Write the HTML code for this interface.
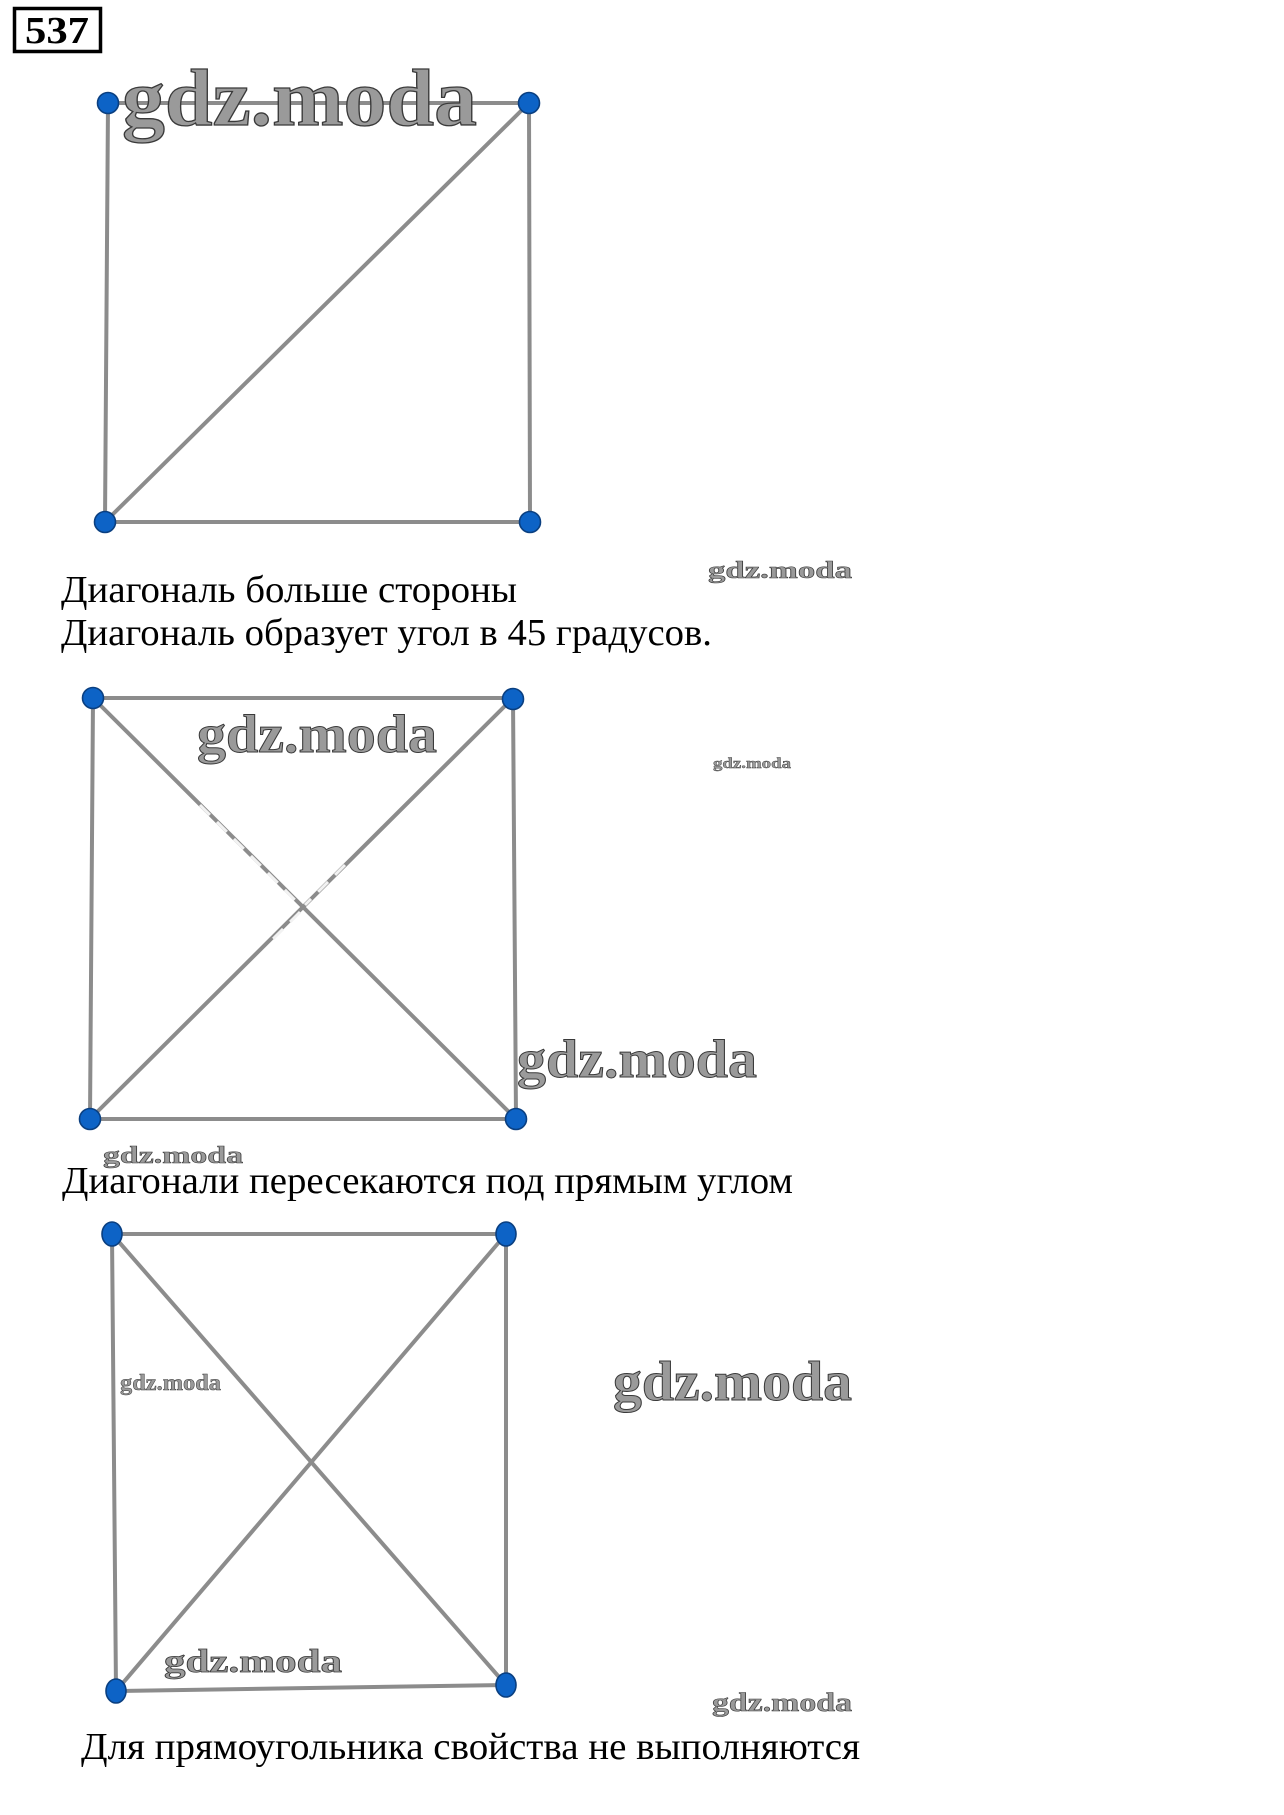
<!DOCTYPE html>
<html>
<head>
<meta charset="utf-8">
<style>
  html, body { margin: 0; padding: 0; background: #fff; }
  body { width: 1284px; height: 1815px; overflow: hidden; }
  svg { display: block; }
  .t { font-family: "Liberation Serif", "DejaVu Serif", serif; fill: #000; }
  .wm { font-family: "Liberation Serif", "DejaVu Serif", serif; font-weight: bold; fill: #9a9a9a; stroke: #3a3a3a; }
</style>
</head>
<body>
<svg width="1284" height="1815" viewBox="0 0 1284 1815" xmlns="http://www.w3.org/2000/svg">
  <rect x="0" y="0" width="1284" height="1815" fill="#fff"/>

  <!-- 537 box -->
  <rect x="14.5" y="8.5" width="86" height="43" fill="none" stroke="#000" stroke-width="3.5"/>
  <text x="25" y="43" class="t" font-weight="bold" font-size="38" textLength="64" lengthAdjust="spacingAndGlyphs">537</text>

  <g stroke="#8c8c8c" stroke-width="4" stroke-linecap="round" fill="none">
    <!-- Square 1 -->
    <line x1="108" y1="103" x2="529" y2="103"/>
    <line x1="108" y1="103" x2="105" y2="522"/>
    <line x1="529" y1="103" x2="530" y2="522"/>
    <line x1="105" y1="522" x2="530" y2="522"/>
    <line x1="105" y1="522" x2="529" y2="103"/>

    <!-- Square 2 -->
    <line x1="93" y1="698" x2="513" y2="698"/>
    <line x1="93" y1="698" x2="90" y2="1119"/>
    <line x1="513" y1="698" x2="516" y2="1119"/>
    <line x1="90" y1="1119" x2="516" y2="1119"/>
    <line x1="93" y1="698" x2="516" y2="1119"/>
    <line x1="513" y1="698" x2="90" y2="1119"/>

    <!-- Square 3 -->
    <line x1="112" y1="1234" x2="506" y2="1234"/>
    <line x1="112" y1="1234" x2="116" y2="1691"/>
    <line x1="506" y1="1234" x2="506" y2="1685"/>
    <line x1="116" y1="1691" x2="506" y2="1685"/>
    <line x1="112" y1="1234" x2="506" y2="1685"/>
    <line x1="506" y1="1234" x2="116" y2="1691"/>
  </g>

  <!-- light streak artifacts on square 2 diagonals -->
  <g stroke="#f2f2f2" stroke-width="3" stroke-dasharray="14 10" fill="none">
    <line x1="200" y1="805" x2="295" y2="900"/>
    <line x1="345" y1="865" x2="305" y2="905"/>
    <line x1="300" y1="912" x2="268" y2="944"/>
  </g>

  <!-- Dots -->
  <g fill="#0d63c6" stroke="#0a3f80" stroke-width="1.6">
    <circle cx="108" cy="103" r="10.5"/>
    <circle cx="529" cy="103" r="10.5"/>
    <circle cx="105" cy="522" r="10.5"/>
    <circle cx="530" cy="522" r="10.5"/>

    <circle cx="93" cy="698" r="10.5"/>
    <circle cx="513" cy="699" r="10.5"/>
    <circle cx="90" cy="1119" r="10.5"/>
    <circle cx="516" cy="1119" r="10.5"/>

    <ellipse cx="112" cy="1234" rx="10" ry="12"/>
    <ellipse cx="506" cy="1234" rx="10" ry="12"/>
    <ellipse cx="116" cy="1691" rx="10" ry="12"/>
    <ellipse cx="506" cy="1685" rx="10" ry="12"/>
  </g>

  <!-- Watermarks -->
  <text class="wm" x="122" y="125" font-size="81" stroke-width="1.3" textLength="355" lengthAdjust="spacingAndGlyphs">gdz.moda</text>
  <text class="wm" x="708" y="578" font-size="24" stroke-width="0.6" textLength="144" lengthAdjust="spacingAndGlyphs">gdz.moda</text>
  <text class="wm" x="197" y="752" font-size="54" stroke-width="1" textLength="240" lengthAdjust="spacingAndGlyphs">gdz.moda</text>
  <text class="wm" x="713" y="768" font-size="15" stroke-width="0.4" textLength="78" lengthAdjust="spacingAndGlyphs">gdz.moda</text>
  <text class="wm" x="517" y="1077" font-size="54" stroke-width="1" textLength="240" lengthAdjust="spacingAndGlyphs">gdz.moda</text>
  <text class="wm" x="103" y="1163" font-size="24" stroke-width="0.6" textLength="140" lengthAdjust="spacingAndGlyphs">gdz.moda</text>
  <text class="wm" x="120" y="1390" font-size="23" stroke-width="0.5" textLength="101" lengthAdjust="spacingAndGlyphs">gdz.moda</text>
  <text class="wm" x="613" y="1400" font-size="56" stroke-width="1" textLength="239" lengthAdjust="spacingAndGlyphs">gdz.moda</text>
  <text class="wm" x="164" y="1672" font-size="33" stroke-width="0.8" textLength="178" lengthAdjust="spacingAndGlyphs">gdz.moda</text>
  <text class="wm" x="712" y="1711" font-size="26" stroke-width="0.6" textLength="140" lengthAdjust="spacingAndGlyphs">gdz.moda</text>

  <!-- Text lines -->
  <text class="t" x="61" y="602" font-size="38" textLength="456" lengthAdjust="spacingAndGlyphs">Диагональ больше стороны</text>
  <text class="t" x="61" y="645" font-size="38" textLength="651" lengthAdjust="spacingAndGlyphs">Диагональ образует угол в 45 градусов.</text>
  <text class="t" x="62" y="1193" font-size="38" textLength="731" lengthAdjust="spacingAndGlyphs">Диагонали пересекаются под прямым углом</text>
  <text class="t" x="81" y="1759" font-size="38" textLength="779" lengthAdjust="spacingAndGlyphs">Для прямоугольника свойства не выполняются</text>
</svg>
</body>
</html>
